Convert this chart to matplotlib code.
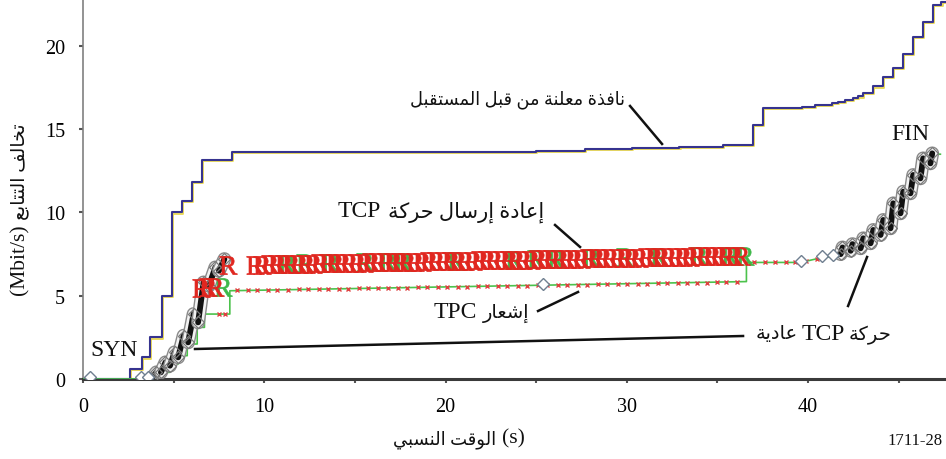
import numpy as np
import matplotlib
matplotlib.use("Agg")
import matplotlib.pyplot as plt
import matplotlib.patheffects as pe
from matplotlib.transforms import offset_copy

plt.rcParams['font.family'] = ['Liberation Serif', 'DejaVu Sans']
plt.rcParams['mathtext.fontset'] = 'custom'
plt.rcParams['mathtext.rm'] = 'Liberation Serif'
plt.rcParams['mathtext.bf'] = 'Liberation Serif:bold'

# ---------------- Arabic shaping (presentation forms, visual order) -------------
FORMS = {
    'ا': ('\uFE8D', '\uFE8E', None, None),
    'إ': ('\uFE87', '\uFE88', None, None),
    'ب': ('\uFE8F', '\uFE90', '\uFE91', '\uFE92'),
    'ة': ('\uFE93', '\uFE94', None, None),
    'ت': ('\uFE95', '\uFE96', '\uFE97', '\uFE98'),
    'ح': ('\uFEA1', '\uFEA2', '\uFEA3', '\uFEA4'),
    'خ': ('\uFEA5', '\uFEA6', '\uFEA7', '\uFEA8'),
    'د': ('\uFEA9', '\uFEAA', None, None),
    'ذ': ('\uFEAB', '\uFEAC', None, None),
    'ر': ('\uFEAD', '\uFEAE', None, None),
    'س': ('\uFEB1', '\uFEB2', '\uFEB3', '\uFEB4'),
    'ش': ('\uFEB5', '\uFEB6', '\uFEB7', '\uFEB8'),
    'ع': ('\uFEC9', '\uFECA', '\uFECB', '\uFECC'),
    'ف': ('\uFED1', '\uFED2', '\uFED3', '\uFED4'),
    'ق': ('\uFED5', '\uFED6', '\uFED7', '\uFED8'),
    'ك': ('\uFED9', '\uFEDA', '\uFEDB', '\uFEDC'),
    'ل': ('\uFEDD', '\uFEDE', '\uFEDF', '\uFEE0'),
    'م': ('\uFEE1', '\uFEE2', '\uFEE3', '\uFEE4'),
    'ن': ('\uFEE5', '\uFEE6', '\uFEE7', '\uFEE8'),
    'و': ('\uFEED', '\uFEEE', None, None),
    'ي': ('\uFEF1', '\uFEF2', '\uFEF3', '\uFEF4'),
}


def ar(s):
    out = []
    for i, c in enumerate(s):
        f = FORMS.get(c)
        if f is None:
            out.append(c)
            continue
        prev = s[i - 1] if i > 0 else ''
        nxt = s[i + 1] if i + 1 < len(s) else ''
        jp = prev in FORMS and FORMS[prev][2] is not None
        jn = f[2] is not None and nxt in FORMS
        if jp and jn:
            g = f[3]
        elif jp:
            g = f[1]
        elif jn:
            g = f[2]
        else:
            g = f[0]
        out.append(g)
    return ''.join(reversed(out))


# ---------------- data ----------------
# receiver advertised window (step, post)
win_t = [0, 2.6, 3.25, 3.7, 4.36, 4.9, 5.44, 6.0, 6.58, 8.2, 25.0, 27.7, 30.3, 32.9, 35.3,
         36.94, 37.5, 39.64, 40.38, 41.3, 41.66, 42.03, 42.49, 42.75, 43.04, 43.59, 44.14,
         44.69, 45.24, 45.8, 46.35, 46.9, 47.36, 47.6]
win_v = [0, 0.6, 1.3, 2.5, 5.0, 10.0, 10.7, 11.85, 13.15, 13.65, 13.72, 13.8, 13.88, 13.95, 14.05,
         15.26, 16.3, 16.36, 16.46, 16.57, 16.66, 16.77, 16.87, 16.97, 17.17, 17.57, 18.13,
         18.67, 19.52, 20.52, 21.44, 22.45, 22.65, 22.65]

# acknowledgement trace (green)
ack_t = [0, 3.0, 3.0, 4.3, 4.3, 4.8, 4.8, 5.25, 5.25, 5.75, 5.75, 6.3, 6.3, 6.7, 6.7, 8.1, 8.1,
         36.6, 36.6, 39.6, 40.4, 41.2, 41.9, 42.5, 43.1, 43.1, 43.65, 43.65, 44.2, 44.2,
         44.75, 44.75, 45.3, 45.3, 45.85, 45.85, 46.4, 46.4, 46.95, 46.95, 47.3]
ack_v = [0, 0, 0.1, 0.1, 0.4, 0.4, 0.9, 0.9, 1.4, 1.4, 2.1, 2.1, 3.1, 3.1, 3.9, 3.9, 5.3,
         5.85, 7.0, 7.0, 7.2, 7.35, 7.5, 7.7, 7.8, 8.2, 8.2, 8.7, 8.7, 9.3,
         9.3, 10.1, 10.1, 11.0, 11.0, 12.0, 12.0, 12.9, 12.9, 13.5, 13.5]

# ack packets (x markers)
ackpkt_t = [7.5, 7.85, 8.5, 9.1, 9.6, 10.2, 10.7, 11.3, 11.9, 12.4, 13.0, 13.5, 14.1, 14.6,
            15.2, 15.7, 16.3, 16.8, 17.4, 17.9, 18.5, 19.0, 19.6, 20.1, 20.7, 21.2, 21.8,
            22.3, 22.9, 23.4, 24.0, 24.5, 25.1, 25.6, 26.2, 26.7, 27.3, 27.8, 28.4, 28.9,
            29.5, 30.0, 30.6, 31.1, 31.7, 32.2, 32.8, 33.3, 33.9, 34.4, 35.0, 35.5, 36.1,
            37.0, 37.6, 38.2, 38.8, 39.3, 39.9, 40.5]
ackpkt_v = [3.9, 3.9, 5.32, 5.33, 5.34, 5.35, 5.36, 5.37, 5.38, 5.39, 5.4, 5.41, 5.42, 5.43,
            5.44, 5.45, 5.46, 5.47, 5.48, 5.49, 5.5, 5.51, 5.52, 5.53, 5.54, 5.55, 5.56,
            5.57, 5.58, 5.59, 5.6, 5.61, 5.62, 5.63, 5.64, 5.65, 5.66, 5.67, 5.68, 5.69,
            5.7, 5.71, 5.72, 5.73, 5.74, 5.75, 5.76, 5.77, 5.78, 5.79, 5.8, 5.81, 5.83,
            7.0, 7.0, 7.0, 7.02, 7.05, 7.1, 7.2]

# normal TCP segment bursts (start -> end)
seg_t0 = [3.8, 4.3, 4.8, 5.25, 5.8, 6.35, 6.95, 7.5, 41.8, 42.35, 42.9, 43.45, 44.0, 44.55, 45.1, 45.65, 46.2, 46.75]
seg_v0 = [0.05, 0.4, 0.8, 1.3, 2.2, 3.4, 5.6, 6.5, 7.5, 7.7, 7.85, 8.15, 8.65, 9.05, 9.95, 11.15, 12.05, 12.95]
seg_t1 = [4.05, 4.55, 5.05, 5.55, 6.1, 6.65, 7.3, 7.8, 41.9, 42.45, 43.05, 43.6, 44.15, 44.7, 45.25, 45.8, 46.35, 46.85]
seg_v1 = [0.4, 1.0, 1.6, 2.6, 3.9, 5.8, 6.7, 7.2, 7.9, 8.1, 8.45, 8.95, 9.55, 10.55, 11.25, 12.25, 13.25, 13.55]

# isolated normal TCP segments (diamonds)
dia_t = [0.4, 3.2, 3.6, 25.4, 39.6, 40.75, 41.35]
dia_v = [0.1, 0.1, 0.15, 5.7, 7.1, 7.4, 7.45]

# retransmissions (R markers)
ret_t = [8.0, 9.5, 9.9, 10.3, 10.7, 11.1, 11.5, 11.9, 12.3, 12.7, 13.1, 13.5, 13.9, 14.3, 14.7,
         15.1, 15.5, 15.9, 16.3, 16.7, 17.1, 17.5, 17.9, 18.3, 18.7, 19.1, 19.5, 19.9, 20.3,
         20.7, 21.1, 21.5, 21.9, 22.3, 22.7, 23.1, 23.5, 23.9, 24.3, 24.7, 25.1, 25.5, 25.9,
         26.3, 26.7, 27.1, 27.5, 27.9, 28.3, 28.7, 29.1, 29.5, 29.9, 30.3, 30.7, 31.1, 31.5,
         31.9, 32.3, 32.7, 33.1, 33.5, 33.9, 34.3, 34.7, 35.1, 35.5, 35.9, 36.3,
         6.5, 6.9, 7.3]
ret_v = [6.85, 6.86, 6.87, 6.88, 6.89, 6.9, 6.91, 6.92, 6.92, 6.93, 6.94, 6.95, 6.96, 6.96, 6.97,
         6.98, 6.99, 7.0, 7.0, 7.01, 7.02, 7.03, 7.04, 7.04, 7.05, 7.06, 7.07, 7.08, 7.08,
         7.09, 7.1, 7.11, 7.12, 7.12, 7.13, 7.14, 7.15, 7.16, 7.16, 7.17, 7.18, 7.19, 7.2,
         7.2, 7.21, 7.22, 7.23, 7.24, 7.24, 7.25, 7.26, 7.27, 7.28, 7.28, 7.29, 7.3, 7.31,
         7.32, 7.32, 7.33, 7.34, 7.35, 7.36, 7.36, 7.37, 7.38, 7.39, 7.4, 7.4,
         5.45, 5.5, 5.55]
ret2_t = [7.7, 11.25, 12.25, 13.6, 15.55, 16.8, 17.65, 20.6, 23.8, 25.0, 26.1, 28.0, 29.9,
          31.8, 34.0, 35.7, 36.5]
ret2_v = [5.55, 6.92, 6.95, 6.97, 7.0, 7.03, 7.05, 7.1, 7.17, 7.19, 7.22, 7.27, 7.31,
          7.35, 7.38, 7.4, 7.4]

x_ticks = [0, 10, 20, 30, 40]
y_ticks = [0, 5, 10, 15, 20]

# ---------------- figure ----------------
W, H = 946, 460
fig = plt.figure(figsize=(W / 100, H / 100), dpi=100)
ax = fig.add_axes([83 / W, 80 / H, 863 / W, 380 / H])
ax.set_xlim(0, 47.61)
ax.set_ylim(0, 22.82)

for s in ['top', 'right']:
    ax.spines[s].set_visible(False)
ax.spines['left'].set_color('#808080')
ax.spines['left'].set_linewidth(1.2)
ax.spines['bottom'].set_color('#3a3a3a')
ax.spines['bottom'].set_linewidth(2.2)

ax.set_xticks(x_ticks)
ax.set_xticks([5, 15, 25, 35, 45], minor=True)
ax.set_yticks(y_ticks)
ax.tick_params(axis='both', which='both', direction='out', length=3, width=1.5,
               color='#555555', labelsize=14.5)
ax.tick_params(axis='x', pad=10)
ax.tick_params(axis='y', pad=10)

# window: yellow shadow + blue
sh = offset_copy(ax.transData, fig=fig, x=1.2, y=-1.2, units='dots')
ax.step(win_t, win_v, where='post', color='#e8d850', lw=1.3, transform=sh, zorder=2)
ax.step(win_t, win_v, where='post', color='#36338f', lw=1.5, zorder=3)

# ack trace
ax.plot(ack_t, ack_v, color='#4cc24c', lw=1.2, zorder=3)
ax.plot(ackpkt_t, ackpkt_v, ls='none', marker='x', ms=3.2, mew=1.0, color='#e04040', zorder=4)

# bursts of normal segments
for t0, v0, t1, v1 in zip(seg_t0, seg_v0, seg_t1, seg_v1):
    ax.plot([t0, t1], [v0, v1], color='#111111', lw=4.2, solid_capstyle='round', zorder=5,
            path_effects=[pe.Stroke(linewidth=10, foreground='#8a8a8a'),
                          pe.Stroke(linewidth=8, foreground='#f2f2f2'),
                          pe.Normal()])
    ax.plot([t0, t1], [v0, v1], ls='none', marker='D', ms=6, mfc='none', mec='#7a7a7a',
            mew=0.9, zorder=6)
ax.plot(dia_t, dia_v, ls='none', marker='D', ms=6, mfc='white', mec='#6f7f90', mew=1.0, zorder=6)

# retransmissions
ax.plot(ret2_t, ret2_v, ls='none', marker=r'$\mathrm{R}$', ms=13, mew=0.5, color='#3fb84a', zorder=6)
ax.plot(ret_t, ret_v, ls='none', marker=r'$\mathrm{R}$', ms=13, mew=0.5, color='#e0261f', zorder=7)

# ---------------- annotations ----------------
lab = dict(family=['Liberation Serif', 'DejaVu Sans'], color='#111111')
lc = dict(color='#111111', lw=1.8)


def px(x, y):
    return ((x - 83) / 18.125, (380 - y) / 16.65)


def fpx(x, y):
    return (x / W, 1 - y / H)


ax.text(*px(517, 100), ar('نافذة معلنة من قبل المستقبل'), ha='center', va='center', fontsize=12.8, **lab)
ax.plot(*zip(px(630, 107), px(662, 145)), **lc)

ax.text(*px(381, 212), 'TCP', ha='right', va='center', fontsize=17, **lab)
ax.text(*px(388, 212), ar('إعادة إرسال حركة'), ha='left', va='center', fontsize=15, **lab)
ax.plot(*zip(px(555, 226), px(580, 248)), **lc)

ax.text(*px(477, 313), 'TPC', ha='right', va='center', fontsize=17, **lab)
ax.text(*px(483, 313), ar('إشعار'), ha='left', va='center', fontsize=14, **lab)
ax.plot(*zip(px(538, 312), px(578, 293)), **lc)

ax.text(*px(798, 335), ar('عادية'), ha='right', va='center', fontsize=14, **lab)
ax.text(*px(823, 335), 'TCP', ha='center', va='center', fontsize=17, **lab)
ax.text(*px(849, 335), ar('حركة'), ha='left', va='center', fontsize=14, **lab)
ax.plot(*zip(px(848, 307), px(867, 258)), **lc)
ax.plot(*zip(px(743, 337), px(195, 350)), **lc)

ax.text(*px(90, 351), 'SYN', ha='left', va='center', fontsize=17, **lab)
ax.text(*px(910, 135), 'FIN', ha='center', va='center', fontsize=17, **lab)

fig.text(*fpx(496, 440), ar('الوقت النسبي'), ha='right', va='center', fontsize=13, **lab)
fig.text(*fpx(502, 439), '(s)', ha='left', va='center', fontsize=15.5, **lab)
fig.text(*fpx(20, 224), '(Mbit/s)', ha='center', va='top', rotation=90, fontsize=15.5, **lab)
fig.text(*fpx(20, 220), ar('تخالف التتابع'), ha='center', va='bottom', rotation=90, fontsize=13.5, **lab)
fig.text(*fpx(943, 441), '1711-28', ha='right', va='center', fontsize=12, **lab)

fig.savefig('out.png', dpi=100)
